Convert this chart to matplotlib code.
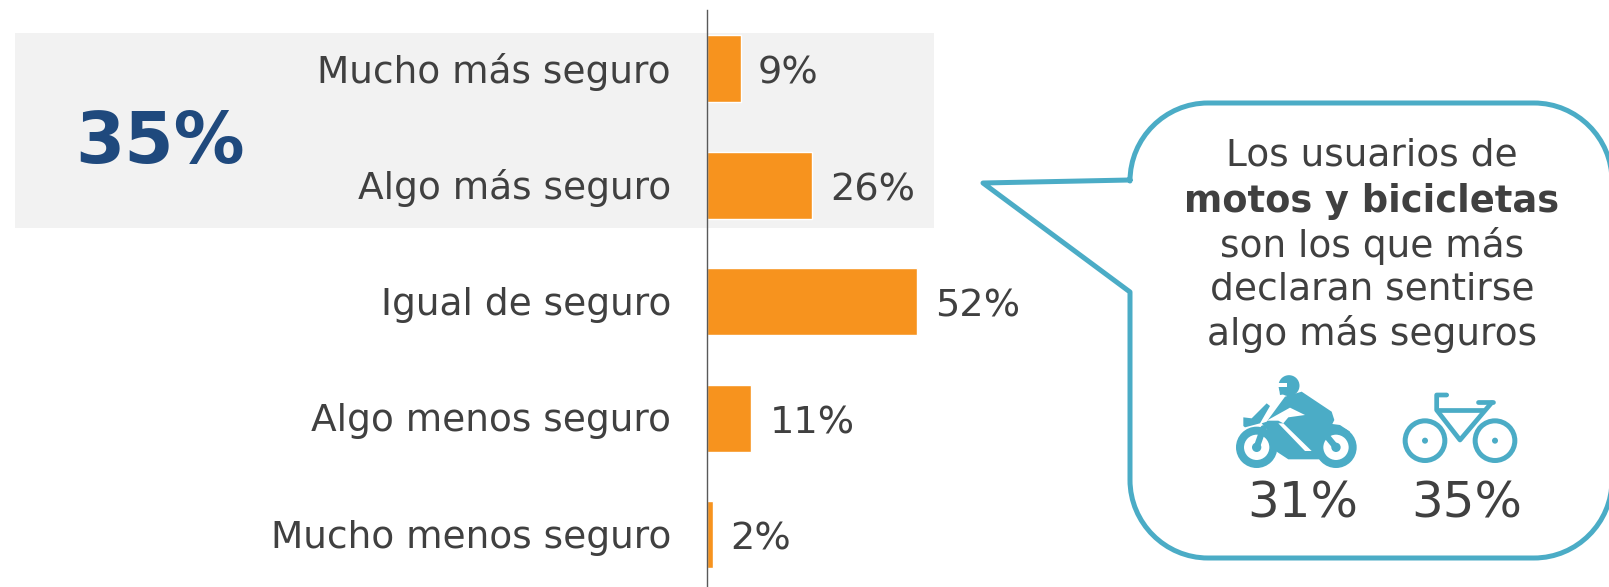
import matplotlib
matplotlib.use("Agg")
import matplotlib.pyplot as plt
from matplotlib.path import Path
from matplotlib.patches import PathPatch, Circle, Polygon, Rectangle

categories = ["Mucho más seguro", "Algo más seguro", "Igual de seguro", "Algo menos seguro", "Mucho menos seguro"]
values = [8.3, 26, 52, 11, 1.6]
value_labels = ["9%", "26%", "52%", "11%", "2%"]
highlight_label = "35%"
note_lines = ["Los usuarios de", "motos y bicicletas", "son los que más", "declaran sentirse", "algo más seguros"]
moto_label = "31%"
bike_label = "35%"

W, H = 1609, 587
ORANGE = "#F7931E"
TEAL = "#4BACC6"
TXT = "#404040"
NAVY = "#1F497D"
plt.rcParams["font.family"] = ["DejaVu Sans"]

fig = plt.figure(figsize=(W / 100, H / 100), dpi=100, facecolor="white")

bg = fig.add_axes([0, 0, 1, 1], zorder=0)
bg.set_xlim(0, W); bg.set_ylim(H, 0); bg.axis("off")
bg.add_patch(Rectangle((15, 33), 919, 195, facecolor="#F2F2F2", edgecolor="none"))

ax = fig.add_axes([0, 0, 1, 1], zorder=1)
ax.patch.set_alpha(0)
ppx = 4.04
x0 = 707
ax.set_xlim(-x0 / ppx, (W - x0) / ppx)
step = 116.5
y0 = 68.7
ax.set_ylim((H - y0) / step, -y0 / step)
ax.axis("off")
ypos = list(range(len(categories)))
ax.barh(ypos, values, height=0.575, color=ORANGE, edgecolor="white", linewidth=1.0, zorder=2)
ax.plot([0, 0], [(10 - y0) / step, (H - y0) / step], color="#595959", lw=1.0, zorder=3)
for y, c, v, l in zip(ypos, categories, values, value_labels):
    ax.annotate(c, (0, y), xytext=(-36, -3), textcoords="offset pixels", ha="right", va="center",
                fontsize=27, color=TXT)
    ax.annotate(l, (v, y), xytext=(17 if v < 10 else 18, -5), textcoords="offset pixels", ha="left", va="center",
                fontsize=27.5, color=TXT)

fg = fig.add_axes([0, 0, 1, 1], zorder=2)
fg.patch.set_alpha(0)
fg.set_xlim(0, W); fg.set_ylim(H, 0); fg.axis("off")

fg.text(160, 143, highlight_label, ha="center", va="center", fontsize=51, fontweight="bold", color=NAVY)

# speech bubble
L, T, R, B, r = 1130, 103, 1612, 558, 78
k = 0.55 * r
verts = [(L, 180), (L, T + r), (L, T + r - k), (L + r - k, T), (L + r, T),
         (R - r, T), (R - r + k, T), (R, T + r - k), (R, T + r),
         (R, B - r), (R, B - r + k), (R - r + k, B), (R - r, B),
         (L + r, B), (L + r - k, B), (L, B - r + k), (L, B - r),
         (L, 292), (983, 183), (L, 180)]
codes = [Path.MOVETO, Path.LINETO, Path.CURVE4, Path.CURVE4, Path.CURVE4,
         Path.LINETO, Path.CURVE4, Path.CURVE4, Path.CURVE4,
         Path.LINETO, Path.CURVE4, Path.CURVE4, Path.CURVE4,
         Path.LINETO, Path.CURVE4, Path.CURVE4, Path.CURVE4,
         Path.LINETO, Path.LINETO, Path.CLOSEPOLY]
fg.add_patch(PathPatch(Path(verts, codes), facecolor="white", edgecolor=TEAL, lw=3.6, joinstyle="round"))

for line, yy in zip(note_lines, [156, 202, 246, 290, 334]):
    bold = "motos" in line
    fg.text(1372, yy, line, ha="center", va="center", fontsize=26.5 if bold else 27, color=TXT,
            fontweight="bold" if bold else "normal")
fg.text(1303, 503, moto_label, ha="center", va="center", fontsize=36, color=TXT)
fg.text(1467, 503, bike_label, ha="center", va="center", fontsize=36, color=TXT)

def Z(p):
    return (1100 + p[0] / 3, 360 + p[1] / 3)

def zpoly(pts, **kw):
    fg.add_patch(Polygon([Z(p) for p in pts], closed=True, edgecolor="none", **kw))

def zring(c, ro, ri, hub):
    cx, cy = Z(c)
    fg.add_patch(Circle((cx, cy), (ro + ri) / 6, facecolor="white", edgecolor=TEAL, lw=(ro - ri) / 3 / 1.389))
    fg.add_patch(Circle((cx, cy), hub / 3, facecolor=TEAL, edgecolor="none"))

def zline(pts, lw=3.0):
    fg.plot([Z(p)[0] for p in pts], [Z(p)[1] for p in pts], color=TEAL, lw=lw,
            solid_capstyle="round", solid_joinstyle="round")

# motorcycle icon
zpoly([(430, 172), (455, 175), (500, 130), (510, 138), (480, 190), (435, 202), (430, 198)], facecolor=TEAL)
zpoly([(555, 110), (605, 95), (695, 155), (703, 180), (697, 192), (720, 195), (750, 215),
       (700, 250), (660, 298), (565, 298), (530, 275), (510, 220), (485, 190), (500, 185)],
      facecolor=TEAL)
zpoly([(500, 182), (570, 143), (615, 165), (565, 172), (550, 190), (535, 182)], facecolor="white")
zpoly([(535, 190), (550, 190), (635, 273), (615, 273)], facecolor="white")
zring((470, 262), 62, 38, 14)
zring((708, 262), 62, 38, 14)
zline([(470, 262), (490, 205)], lw=4.5)
zline([(708, 262), (675, 222)], lw=4.5)
fg.add_patch(Circle(Z((567, 77)), 10.5, facecolor=TEAL, edgecolor="none"))
zpoly([(530, 70), (562, 70), (562, 82), (530, 82)], facecolor="white")
zpoly([(537, 84), (562, 84), (572, 100), (540, 105)], facecolor=TEAL)

# bicycle icon
for c in [(975, 242), (1185, 242)]:
    zring(c, 67, 52, 9)
zline([(1040, 105), (1010, 105), (1010, 150), (1080, 240), (1175, 128)], lw=3.4)
zline([(1010, 150), (1150, 150)], lw=3.4)
zline([(1135, 126), (1178, 126)], lw=3.4)

fig.savefig("out.png", dpi=100)
